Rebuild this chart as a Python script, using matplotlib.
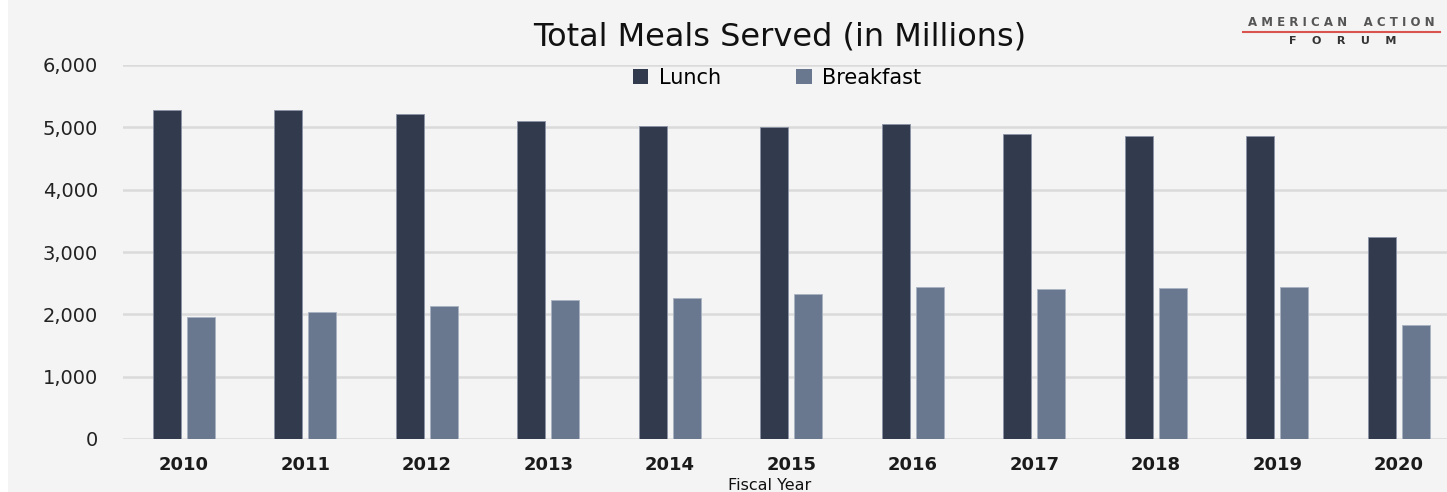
import matplotlib
matplotlib.use("Agg")
import matplotlib.pyplot as plt
import numpy as np
from matplotlib.patches import Rectangle
from matplotlib.ticker import FuncFormatter

years = ["2010", "2011", "2012", "2013", "2014", "2015", "2016", "2017", "2018", "2019", "2020"]
lunch = [5278, 5278, 5214, 5102, 5022, 5006, 5054, 4893, 4861, 4861, 3241]
breakfast = [1957, 2037, 2134, 2230, 2262, 2326, 2439, 2407, 2423, 2439, 1829]
series_names = ["Lunch", "Breakfast"]
y_ticks = [0, 1000, 2000, 3000, 4000, 5000, 6000]

LUNCH_C = "#323a4d"
BREAK_C = "#69778f"
BG = "#f4f4f4"

W, H = 1447, 492
fig = plt.figure(figsize=(W / 100, H / 100), dpi=100, facecolor="white")
fig.patches.append(Rectangle((8 / W, 0), 1 - 8 / W, 1, transform=fig.transFigure,
                             facecolor=BG, edgecolor="none", zorder=-10))

ax = fig.add_axes([123 / W, (H - 439) / H, (W - 123) / W, 374 / H])
ax.set_facecolor(BG)

x = np.arange(len(years))
bw = 0.23
off = 0.14
ax.bar(x - off, lunch, width=bw, color=LUNCH_C, edgecolor="#8a93a6", linewidth=0.6,
       label=series_names[0], zorder=3)
ax.bar(x + off, breakfast, width=bw, color=BREAK_C, edgecolor="#a9b2c2", linewidth=0.6,
       label=series_names[1], zorder=3)

ax.set_xlim(-0.5, -0.5 + (W - 123) / 121.5)
ax.set_ylim(0, 6000)
ax.set_yticks(y_ticks)
ax.yaxis.set_major_formatter(FuncFormatter(lambda v, p: f"{int(v):,}"))
ax.grid(axis="y", color="#dadada", linewidth=1.8, zorder=0)
ax.set_axisbelow(True)
for s in ax.spines.values():
    s.set_visible(False)
ax.set_xticks(x)
ax.set_xticklabels(years)
ax.xaxis.set_tick_params(length=0, pad=12, labelsize=13, labelcolor="#1a1a1a")
for t in ax.get_xticklabels():
    t.set_fontweight("bold")
ax.yaxis.set_tick_params(length=0, pad=18, labelsize=14, labelcolor="#222222")

fig.text(780 / W, 1 - 37 / H, "Total Meals Served (in Millions)", ha="center", va="center",
         fontsize=23, fontfamily="DejaVu Sans", color="#111111")
fig.text(770 / W, 1 - 485 / H, "Fiscal Year", ha="center", va="center",
         fontsize=11.5, fontfamily="DejaVu Sans", color="#111111")

leg = fig.legend(loc="center", bbox_to_anchor=(777 / W, 1 - 78 / H), ncol=2, frameon=False,
                 handlelength=0.75, handleheight=0.75, handletextpad=0.5, columnspacing=3.6,
                 prop={"family": "DejaVu Sans", "size": 15})
for h in leg.legend_handles:
    h.set_edgecolor("none")

# logo
fig.text(1341 / W, 1 - 23 / H, "A M E R I C A N    A C T I O N", ha="center", va="center",
         fontsize=8.5, color="#555555", fontweight="bold")
fig.add_artist(plt.Line2D([1243 / W, 1440 / W], [1 - 32 / H, 1 - 32 / H],
                          transform=fig.transFigure, color="#d9534f", linewidth=1.5))
fig.text(1343 / W, 1 - 41 / H, "F    O    R    U    M", ha="center", va="center",
         fontsize=8, color="#333333", fontweight="bold")

fig.savefig("out.png", dpi=100, facecolor=fig.get_facecolor())
